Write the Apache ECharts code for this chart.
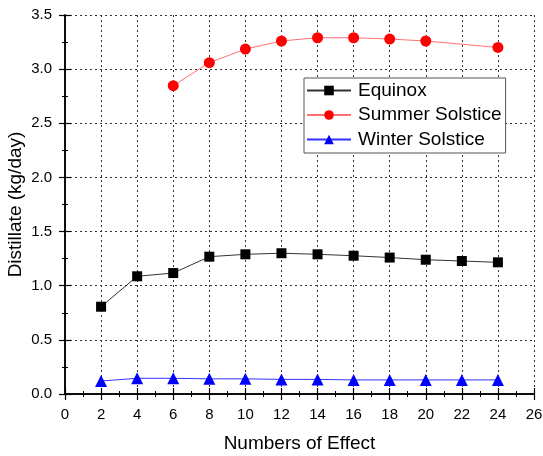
<!DOCTYPE html>
<html><head><meta charset="utf-8">
<script src="https://cdn.jsdelivr.net/npm/echarts@6/dist/echarts.min.js"></script>
<style>html,body{margin:0;padding:0;background:#fff}#c{width:543px;height:456px}</style>
</head><body><div id="c"></div>
<script>
const effects = [2,4,6,8,10,12,14,16,18,20,22,24];
const equinox = [0.806,1.087,1.117,1.268,1.29,1.30,1.29,1.277,1.26,1.24,1.228,1.216];
const summerX = [6,8,10,12,14,16,18,20,24];
const summer = [2.847,3.06,3.185,3.26,3.29,3.29,3.278,3.26,3.20];
const winter = [0.12,0.145,0.145,0.14,0.14,0.135,0.135,0.13,0.13,0.13,0.13,0.13];
const xTitle = 'Numbers of Effect';
const yTitle = 'Distillate (kg/day)';

const font = 'Liberation Sans, Arial, sans-serif';
const pair = (xs, ys) => xs.map((x,i)=>[x, ys[i]]);
const grid = {left:65, top:15, right:9, bottom:62, containLabel:false, outerBoundsMode:'none'};
const split = {show:true, lineStyle:{color:'#333', type:[2,3], width:1}};
const axisLine = {show:true, lineStyle:{color:'#000', width:1.5}};
const tick = {show:true, inside:true, length:6, lineStyle:{color:'#000', width:1.2}};
const minor = {show:true, splitNumber:2, length:3, lineStyle:{color:'#000', width:1}};

const chart = echarts.init(document.getElementById('c'));
chart.setOption({
  animation:false,
  grid,
  legend:{
    left:304, top:78, orient:'vertical', itemGap:5.5, itemWidth:44, itemHeight:12,
    padding:[3,4,4,2], borderColor:'#555', borderWidth:1, backgroundColor:'#fff',
    textStyle:{fontFamily:font, fontSize:19, color:'#000', padding:[0,0,0,2]},
    data:['Equinox','Summer Solstice','Winter Solstice']
  },
  xAxis:[{
    type:'value', min:0, max:26, interval:2, position:'bottom',
    axisLine, axisTick:tick, minorTick:minor, splitLine:split,
    axisLabel:{fontFamily:font, fontSize:15, color:'#000', margin:13},
    name:xTitle, nameLocation:'middle', nameGap:40, nameMoveOverlap:false,
    nameTextStyle:{fontFamily:font, fontSize:19, color:'#000'}
  },{
    type:'value', min:0, max:26, interval:2, position:'top',
    axisLine, axisTick:tick, minorTick:minor, splitLine:{show:false}, axisLabel:{show:false}
  }],
  yAxis:[{
    type:'value', min:0, max:3.5, interval:0.5, position:'left',
    axisLine, axisTick:tick, minorTick:minor, splitLine:split,
    axisLabel:{fontFamily:font, fontSize:15, color:'#000', margin:13, formatter:v=>v.toFixed(1)},
    name:yTitle, nameLocation:'middle', nameGap:40, nameMoveOverlap:false,
    nameTextStyle:{fontFamily:font, fontSize:19, color:'#000'}
  },{
    type:'value', min:0, max:3.5, interval:0.5, position:'right',
    axisLine, axisTick:tick, minorTick:minor, splitLine:{show:false}, axisLabel:{show:false}
  }],
  series:[
    {name:'Equinox', type:'line', data:pair(effects,equinox), symbol:'rect', symbolSize:10,
     itemStyle:{color:'#000'}, lineStyle:{color:'#333', width:1}},
    {name:'Summer Solstice', type:'line', data:pair(summerX,summer), symbol:'circle', symbolSize:11,
     itemStyle:{color:'#ff0000'}, lineStyle:{color:'#ff7070', width:1}},
    {name:'Winter Solstice', type:'line', data:pair(effects,winter), symbol:'triangle', symbolSize:12,
     itemStyle:{color:'#0000ff'}, lineStyle:{color:'#3030ff', width:1}}
  ]
});
</script></body></html>
